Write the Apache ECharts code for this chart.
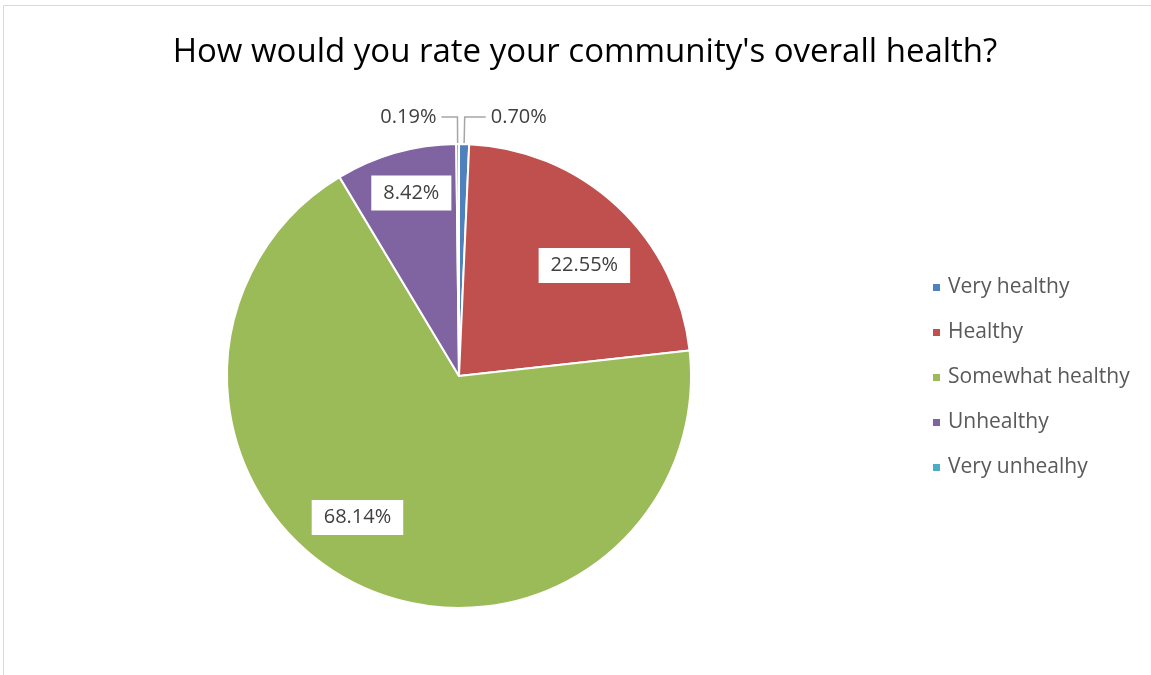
<!DOCTYPE html>
<html><head><meta charset="utf-8">
<script src="https://cdn.jsdelivr.net/npm/echarts@6/dist/echarts.min.js"></script>
<style>html,body{margin:0;padding:0;background:#fff}#c{width:1151px;height:675px}</style>
</head><body><div id="c"></div>
<script>
const categories = ['Very healthy', 'Healthy', 'Somewhat healthy', 'Unhealthy', 'Very unhealhy'];
const values = [0.70, 22.55, 68.14, 8.42, 0.19];
const colors = ['#4F81BD', '#C0504D', '#9BBB59', '#8064A2', '#4BACC6'];
const titleText = "How would you rate your community's overall health?";
const outsideLabels = ['Very healthy', 'Very unhealhy'];

// label nudges (style only) to mimic Excel's best-fit placement
const labelNudge = { 'Healthy': [6, 17], 'Somewhat healthy': [-24, -15], 'Unhealthy': [0, -15] };
const leaderLen2 = { 'Very healthy': 21, 'Very unhealhy': 16 };

const font = 'Open Sans';
const R = 232;
const center = [459, 376];

const mainData = categories.map((c, i) => ({
  name: c, value: values[i],
  itemStyle: { color: colors[i] },
  label: { show: outsideLabels.includes(c) },
  labelLine: { show: outsideLabels.includes(c), length2: leaderLen2[c] || 16 }
}));
const labelData = categories.map((c, i) => ({
  name: c, value: values[i],
  label: { show: !outsideLabels.includes(c), offset: labelNudge[c] || [0, 0] }
}));

const chart = echarts.init(document.getElementById('c'), null, { renderer: 'canvas' });
chart.setOption({
  animation: false,
  backgroundColor: '#fff',
  graphic: [{
    type: 'rect', silent: true, z: -1,
    shape: { x: 3.5, y: 5.5, width: 1200, height: 700 },
    style: { fill: 'none', stroke: '#d9d9d9', lineWidth: 1 }
  }],
  title: {
    text: titleText, left: 580, top: 31, textAlign: 'center',
    textStyle: { fontFamily: font, fontSize: 33, fontWeight: 'normal', color: '#000' }
  },
  legend: {
    orient: 'vertical', left: 926, top: 269, itemGap: 18,
    itemWidth: 9, itemHeight: 9, icon: 'rect',
    textStyle: { fontFamily: font, fontSize: 21, lineHeight: 27, color: '#595959', padding: [0, 0, 0, 2] },
    data: categories
  },
  series: [{
    type: 'pie', center: center, radius: R, startAngle: 90, clockwise: true,
    avoidLabelOverlap: false,
    itemStyle: { borderColor: '#fff', borderWidth: 2 },
    label: {
      position: 'outside', formatter: p => p.value.toFixed(2) + '%',
      fontFamily: font, fontSize: 20, color: '#404040', distanceToLabelLine: 5
    },
    labelLine: { length: 27, length2: 16, lineStyle: { color: '#a6a6a6', width: 1.5 } },
    emphasis: { disabled: true },
    data: mainData
  }, {
    type: 'pie', center: center, radius: [R * 0.48, R], startAngle: 90, clockwise: true,
    silent: true, avoidLabelOverlap: false,
    itemStyle: { color: 'rgba(0,0,0,0)' },
    label: {
      position: 'inside', formatter: p => p.value.toFixed(2) + '%',
      fontFamily: font, fontSize: 20, color: '#404040',
      backgroundColor: '#fff', padding: [8, 12, 7, 12]
    },
    labelLine: { show: false },
    emphasis: { disabled: true },
    legendHoverLink: false,
    data: labelData
  }]
});
</script></body></html>
